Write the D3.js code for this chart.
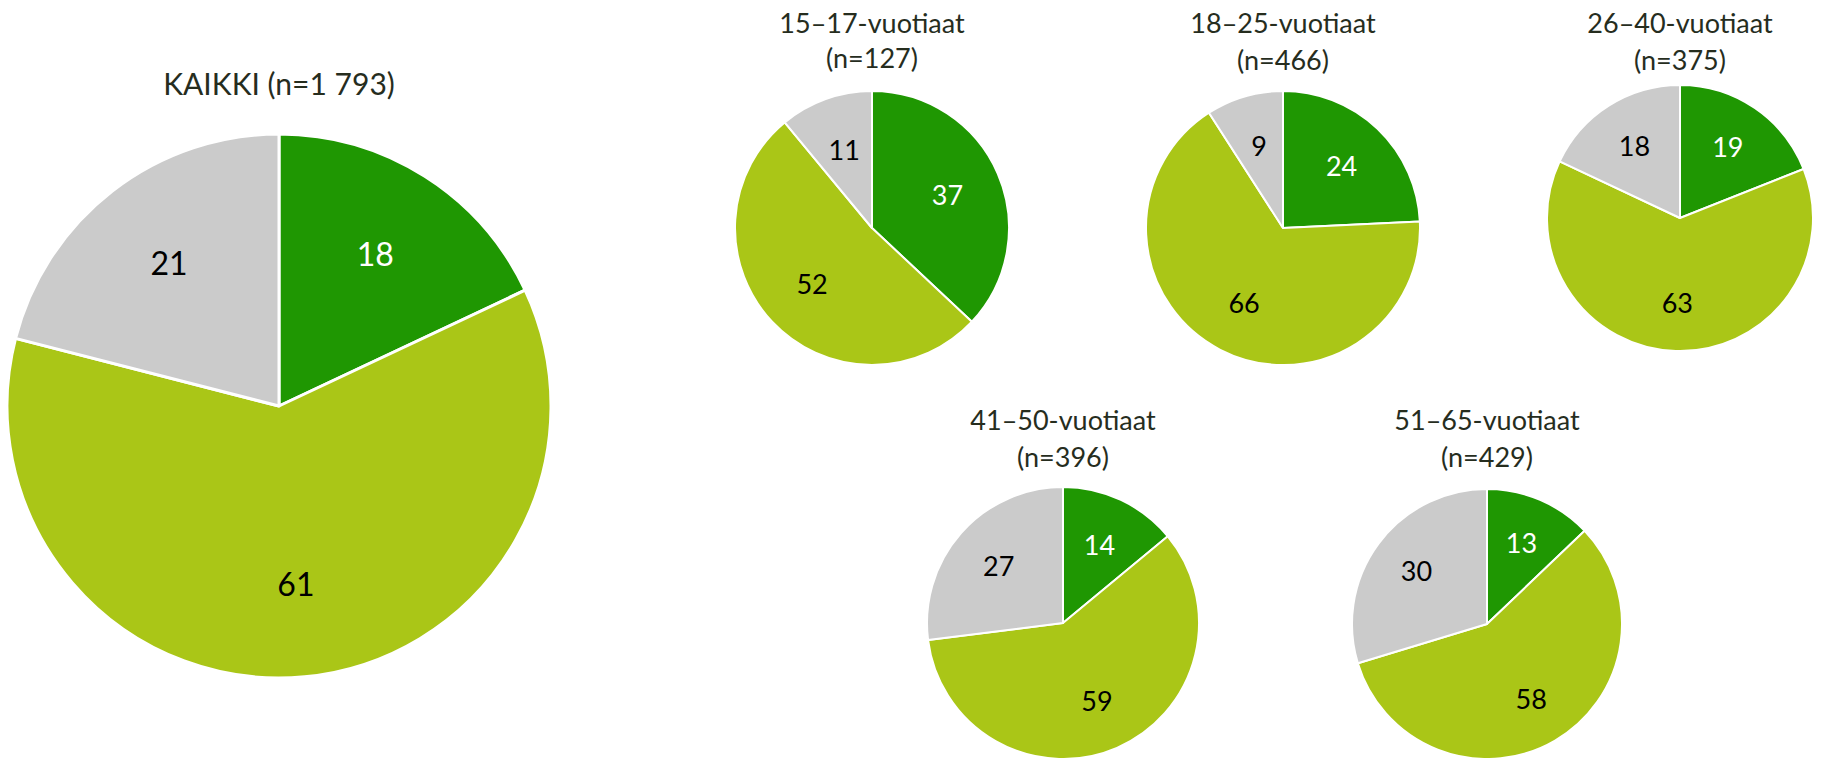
<!DOCTYPE html>
<html>
<head>
<meta charset="utf-8">
<script src="https://cdn.jsdelivr.net/npm/d3@7"></script>
<style>
  html, body { margin: 0; padding: 0; background: #ffffff; }
  svg { display: block; }
  text { font-family: Lato, "Open Sans", sans-serif; }
</style>
</head>
<body>
<svg id="chart" width="1821" height="758"></svg>
<script>
// ---- DATA ----
const groups = ["KAIKKI", "15–17-vuotiaat", "18–25-vuotiaat", "26–40-vuotiaat", "41–50-vuotiaat", "51–65-vuotiaat"];
const nValues = ["1 793", "127", "466", "375", "396", "429"];
const darkGreenValues = [18, 37, 24, 19, 14, 13];
const lightGreenValues = [61, 52, 66, 63, 59, 58];
const grayValues = [21, 11, 9, 18, 27, 30];
const seriesNames = ["series1", "series2", "series3"];

// ---- LAYOUT / STYLE ----
const seriesColors = ["#1f9702", "#aac617", "#cbcbcb"];
const labelColors = ["#ffffff", "#000000", "#000000"];
const layout = [
  { cx: 279,  cy: 406, r: 272, titleY: [95],      titleSize: 30, labelSize: 32, stroke: 3, labelRatio: 0.66 },
  { cx: 872,  cy: 228, r: 137, titleY: [33, 68],  titleSize: 27, labelSize: 27, stroke: 2, labelRatio: 0.6 },
  { cx: 1283, cy: 228, r: 137, titleY: [33, 70],  titleSize: 27, labelSize: 27, stroke: 2, labelRatio: 0.62 },
  { cx: 1680, cy: 218, r: 133, titleY: [33, 70],  titleSize: 27, labelSize: 27, stroke: 2, labelRatio: 0.64 },
  { cx: 1063, cy: 623, r: 136, titleY: [430, 467], titleSize: 27, labelSize: 27, stroke: 2, labelRatio: 0.63 },
  { cx: 1487, cy: 624, r: 135, titleY: [430, 467], titleSize: 27, labelSize: 27, stroke: 2, labelRatio: 0.65 }
];

const svg = d3.select("#chart");
const color = d3.scaleOrdinal().domain(seriesNames).range(seriesColors);
const labelColor = d3.scaleOrdinal().domain(seriesNames).range(labelColors);
const pie = d3.pie().sort(null).value(d => d.value);

groups.forEach((g, i) => {
  const L = layout[i];
  const data = [
    { key: seriesNames[0], value: darkGreenValues[i] },
    { key: seriesNames[1], value: lightGreenValues[i] },
    { key: seriesNames[2], value: grayValues[i] }
  ];
  const arcs = pie(data);
  const arc = d3.arc().innerRadius(0).outerRadius(L.r);
  const labelArc = d3.arc().innerRadius(L.r * L.labelRatio).outerRadius(L.r * L.labelRatio);

  const gEl = svg.append("g").attr("transform", `translate(${L.cx},${L.cy})`);
  gEl.selectAll("path.slice")
    .data(arcs)
    .join("path")
    .attr("class", "slice")
    .attr("d", arc)
    .attr("fill", d => color(d.data.key))
    .attr("stroke", "#ffffff")
    .attr("stroke-width", L.stroke)
    .attr("stroke-linejoin", "round");

  gEl.selectAll("text.lbl")
    .data(arcs)
    .join("text")
    .attr("class", "lbl")
    .attr("transform", d => {
      const c = labelArc.centroid(d);
      return `translate(${c[0]},${c[1]})`;
    })
    .attr("text-anchor", "middle")
    .attr("dy", "0.35em")
    .attr("font-size", L.labelSize)
    .attr("fill", d => labelColor(d.data.key))
    .text(d => d.data.value);

  const titleLines = i === 0 ? [`${g} (n=${nValues[i]})`] : [g, `(n=${nValues[i]})`];
  titleLines.forEach((t, j) => {
    svg.append("text")
      .attr("x", L.cx)
      .attr("y", L.titleY[j])
      .attr("text-anchor", "middle")
      .attr("font-size", L.titleSize)
      .attr("fill", "#262d1e")
      .text(t);
  });
});
</script>
</body>
</html>
